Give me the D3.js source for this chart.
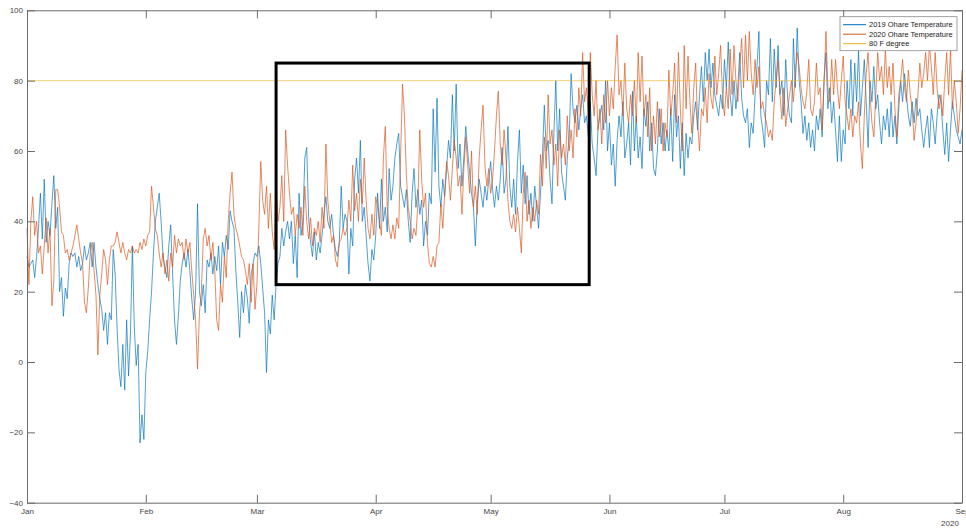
<!DOCTYPE html>
<html>
<head>
<meta charset="utf-8">
<script src="https://cdn.jsdelivr.net/npm/d3@7"></script>
<style>
  body { margin: 0; background: #fff; }
  svg { display: block; font-family: "Liberation Sans", Arial, Helvetica, sans-serif; }
</style>
</head>
<body>
<div id="main_chart"></div>
<script>
// readings are every 12 hours starting Jan 1 (both years laid on the 2020 calendar)
const startDate = "2020-01-01T00:00Z";
const stepHours = 12;
const xDomain = ["2020-01-01T00:00Z", "2020-09-01T00:00Z"];
const yDomain = [-40, 100];
const yTicks = [-40, -20, 0, 20, 40, 60, 80, 100];
const threshold = 80;
const seriesNames = ["2019 Ohare Temperature", "2020 Ohare Temperature", "80 F degree"];
const seriesColors = ["#0072BD", "#D95319", "#EDB120"];
const boxDates = ["2020-03-06T00:00Z", "2020-05-26T17:00Z"];
const boxTemps = [22, 85];
const yearLabel = "2020";

const temp2019 = [
  30, 27, 28, 29, 24, 30, 38, 48, 35, 52, 34, 40, 36, 45, 53, 38, 44, 20, 24, 13,
  21, 18, 28, 31, 30, 31, 27, 30, 26, 28, 33, 29, 31, 34, 27, 34, 27, 22, 18, 15,
  9, 14, 5, 14, 12, 32, 25, 10, -2, -7, 5, -8, 12, -4, 8, 33, 10, -1, 5, -23,
  -15, -22, -3, 3, 12, 20, 31, 40, 44, 48, 40, 30, 27, 24, 33, 39, 25, 12, 5, 13,
  23,
  28, 31, 27, 32, 26, 18, 12, 20, 45, 20, 16, 22, 14, 29, 27, 31, 25, 30, 26, 33,
  22, 34, 30, 36, 32, 43, 40, 38, 26, 17, 7, 20, 14, 22, 18, 11, 25, 28, 31, 30,
  33, 28, 21, 14, -3, 12, 8, 19, 12, 22, 28, 30, 38, 33, 37, 40, 35, 40, 28, 36,
  24, 48, 36, 40, 58, 61, 41, 34, 30, 37, 29, 34, 31, 36, 42, 47, 40, 38, 42, 36,
  32, 30, 34, 50, 38, 42,
  40, 25, 38, 33, 52, 58, 48, 63, 40, 44, 36, 28, 23, 32, 29, 36, 48, 38, 52, 40,
  44, 37, 55, 46, 50, 58, 62, 65, 50, 47, 44, 49, 40, 34, 48, 55, 44, 49, 42, 46,
  33, 40, 36, 48, 45, 72, 54, 75, 50, 44, 52, 47, 55, 63, 58, 76, 60, 79, 55, 62,
  50, 58, 67, 60, 54, 48, 44, 33, 45, 52, 48, 44, 50, 46, 52, 57, 49, 44, 50, 46,
  52, 61, 48, 52,
  67, 50, 44, 52, 42, 57, 66, 48, 56, 45, 53, 42, 48, 40, 50, 44, 38, 48, 58, 73,
  60, 63, 52, 45, 65, 80, 60, 72, 54, 50, 46, 58, 64, 82, 72, 68, 73, 66, 72, 76,
  68, 70, 64, 74, 62, 58, 53, 66, 70, 73, 66, 80, 60, 68, 56, 62, 50, 63, 70, 64,
  74, 58, 62, 68, 56, 77, 60, 70, 58, 64, 55, 72, 67, 74, 60, 68, 55, 53, 60, 72,
  62, 68, 60,
  66, 60, 72, 57, 76, 64, 70, 55, 68, 53, 65, 58, 64, 62, 70, 74, 66, 76, 84, 74,
  88, 80, 89, 78, 85, 76, 73, 70, 76, 72, 86, 78, 91, 76, 70, 80, 72, 78, 88, 75,
  70, 68, 72, 61, 68, 65, 76, 84, 94, 70, 66, 61, 80, 76, 92, 74, 89, 78, 90, 76,
  80, 70, 86, 75, 70, 68, 92, 78, 95, 80, 74, 65, 70, 63, 68, 61, 66, 60,
  70, 66, 72, 64, 80, 88, 72, 78, 68, 74, 66, 57, 70, 57, 66, 62, 80, 72, 86, 70,
  85, 74, 89, 70, 78, 86, 74, 61, 80, 74, 84, 72, 76, 68, 62, 70, 66, 72, 64, 74,
  64, 70, 62, 72, 80, 74, 82, 76, 70, 67, 74, 68, 75, 70, 72, 66, 61, 66, 70, 61,
  72, 68, 62, 70, 76, 74, 66, 59, 68, 57, 66, 74, 70, 66, 64, 62, 66
];

const temp2020 = [
  38, 22, 40, 47, 36, 40, 31, 33, 25, 33, 41, 31, 38, 16, 23, 49, 49, 44, 37, 36,
  31, 32, 29, 31, 33, 36, 39, 35, 31, 28, 17, 14, 21, 31, 34, 26, 19, 2, 19, 25,
  32, 29, 22, 29, 33, 33, 34, 37, 34, 31, 34, 31, 29, 32, 31, 33, 31, 32, 31, 34,
  32, 35, 33, 36, 37, 50, 44, 38, 36, 31, 27, 31, 25, 29, 23, 31, 27, 36, 31, 35,
  33,
  34, 29, 35, 31, 34, 26, 19, 12, -2, 14, 20, 35, 38, 33, 36, 29, 34, 26, 12, 9,
  22, 17, 30, 24, 40, 48, 54, 42, 38, 36, 33, 30, 29, 26, 22, 28, 17, 28, 15, 22,
  38, 57, 46, 42, 50, 38, 48, 37, 32, 50, 40, 44, 53, 40, 66, 56, 48, 42, 44, 36,
  42, 38, 44, 36, 50, 40, 35, 41, 33, 38, 36, 40, 34, 44, 38, 62, 46, 40, 34, 36,
  29, 27, 34, 35, 38, 36,
  38, 46, 40, 56, 43, 48, 40, 52, 45, 58, 46, 38, 35, 42, 36, 47, 44, 40, 36, 58,
  67, 44, 38, 35, 39, 35, 41, 38, 59, 79, 70, 53, 44, 40, 35, 38, 36, 45, 66, 52,
  44, 48, 34, 28, 27, 30, 27, 33, 34, 45, 38, 48, 57, 53, 46, 55, 63, 58, 50, 53,
  42, 55, 64, 56, 48, 60, 44, 50, 42, 58, 66, 73, 56, 50, 55, 48, 52, 60, 70, 77,
  62, 56, 66, 58,
  46, 40, 38, 42, 37, 44, 38, 31, 48, 54, 40, 46, 38, 44, 40, 46, 42, 59, 50, 64,
  55, 76, 62, 66, 56, 62, 50, 66, 58, 62, 56, 70, 60, 66, 58, 72, 64, 78, 70, 88,
  74, 78, 70, 88, 76, 70, 80, 66, 72, 62, 76, 68, 80, 70, 78, 72, 84, 93, 76, 80,
  70, 85, 72, 68, 76, 70, 80, 68, 88, 74, 87, 70, 76, 64, 78, 60, 70, 62, 74, 64,
  72, 60, 68,
  64, 83, 70, 76, 85, 68, 88, 72, 60, 90, 72, 87, 74, 65, 78, 85, 68, 60, 72, 70,
  78, 68, 82, 75, 72, 87, 76, 82, 90, 76, 70, 78, 72, 89, 76, 90, 80, 74, 84, 92,
  78, 93, 80, 94, 82, 76, 86, 78, 84, 72, 74, 70, 68, 64, 66, 63, 74, 80, 86, 76,
  69, 78, 67, 72, 76, 80, 74, 82, 88, 84, 78, 74, 72, 77, 86, 72, 70, 74,
  85, 76, 78, 66, 80, 94, 78, 74, 86, 76, 86, 78, 72, 80, 87, 74, 70, 66, 72, 64,
  70, 68, 74, 62, 55, 70, 82, 88, 76, 68, 64, 76, 88, 80, 84, 76, 89, 78, 84, 76,
  85, 72, 64, 76, 80, 86, 78, 74, 83, 76, 72, 63, 68, 76, 85, 78, 82, 88, 80, 90,
  84, 76, 88, 78, 72, 76, 70, 80, 88, 76, 89, 72, 80, 74, 65, 72, 83
];

function Chart() {
  const width = 966;
  const height = 528;
  const marginTop = 10.3;
  const marginRight = 4;
  const marginBottom = 25.3;
  const marginLeft = 27;
  const axisColor = "#6b6b6b";
  const textColor = "#444";

  const t0 = new Date(startDate).getTime();
  const timeAt = (i) => new Date(t0 + i * stepHours * 3600e3);

  // x: time, y: temperature
  const xScale = d3.scaleUtc()
    .domain(xDomain.map((d) => new Date(d)))
    .range([marginLeft, width - marginRight]);

  const yScale = d3.scaleLinear()
    .domain(yDomain)
    .range([height - marginBottom, marginTop]);

  const line = d3.line()
    .x((d, i) => xScale(timeAt(i)))
    .y((d) => yScale(d));

  const svg = d3.create("svg").attr("width", width).attr("height", height);

  // temperature series
  [temp2019, temp2020].forEach((values, k) => {
    svg.append("path")
      .attr("fill", "none")
      .attr("stroke", seriesColors[k])
      .attr("stroke-width", 0.8)
      .attr("stroke-opacity", 0.85)
      .attr("stroke-linejoin", "round")
      .attr("d", line(values));
  });

  // 80 F reference line
  svg.append("line")
    .attr("x1", xScale.range()[0])
    .attr("x2", xScale.range()[1])
    .attr("y1", yScale(threshold))
    .attr("y2", yScale(threshold))
    .attr("stroke", seriesColors[2])
    .attr("stroke-opacity", 0.75)
    .attr("stroke-width", 0.8);

  // highlight rectangle
  const bx0 = xScale(new Date(boxDates[0]));
  const bx1 = xScale(new Date(boxDates[1]));
  svg.append("rect")
    .attr("x", bx0)
    .attr("y", yScale(boxTemps[1]))
    .attr("width", bx1 - bx0)
    .attr("height", yScale(boxTemps[0]) - yScale(boxTemps[1]))
    .attr("fill", "none")
    .attr("stroke", "#000")
    .attr("stroke-width", 3);

  // axes, ticks inward on all four sides
  const months = d3.utcMonth.every(1);
  const styleAxis = (g) => {
    g.selectAll(".domain, .tick line").attr("stroke", axisColor);
    g.selectAll("text").attr("fill", textColor).attr("font-size", 8);
    g.attr("font-family", null);
  };

  svg.append("g")
    .attr("transform", `translate(0,${height - marginBottom})`)
    .call(d3.axisBottom(xScale).ticks(months).tickFormat(d3.utcFormat("%b"))
      .tickSizeInner(-8).tickSizeOuter(0).tickPadding(6))
    .call(styleAxis);

  svg.append("g")
    .attr("transform", `translate(0,${marginTop})`)
    .call(d3.axisTop(xScale).ticks(months).tickFormat("")
      .tickSizeInner(-8).tickSizeOuter(0))
    .call(styleAxis);

  svg.append("g")
    .attr("transform", `translate(${marginLeft},0)`)
    .call(d3.axisLeft(yScale).tickValues(yTicks)
      .tickSizeInner(-8).tickSizeOuter(0).tickPadding(4))
    .call(styleAxis);

  svg.append("g")
    .attr("transform", `translate(${width - marginRight},0)`)
    .call(d3.axisRight(yScale).tickValues(yTicks).tickFormat("")
      .tickSizeInner(-8).tickSizeOuter(0))
    .call(styleAxis);

  svg.append("text")
    .attr("x", 950)
    .attr("y", height - 2)
    .attr("text-anchor", "middle")
    .attr("font-size", 8)
    .attr("fill", textColor)
    .text(yearLabel);

  // legend
  const legend = svg.append("g").attr("transform", "translate(840,16.7)");
  legend.append("rect")
    .attr("width", 117)
    .attr("height", 34)
    .attr("fill", "#fff")
    .attr("stroke", "#8a8a8a")
    .attr("stroke-width", 0.8);

  seriesNames.forEach((name, k) => {
    const row = legend.append("g").attr("transform", `translate(0,${8 + k * 9.5})`);
    row.append("line")
      .attr("x1", 3).attr("x2", 26)
      .attr("stroke", seriesColors[k])
      .attr("stroke-width", 1);
    row.append("text")
      .attr("x", 29)
      .attr("dy", "0.35em")
      .attr("font-size", 7.5)
      .attr("fill", "#222")
      .text(name);
  });

  document.getElementById("main_chart").append(svg.node());
}

Chart();
</script>
</body>
</html>
